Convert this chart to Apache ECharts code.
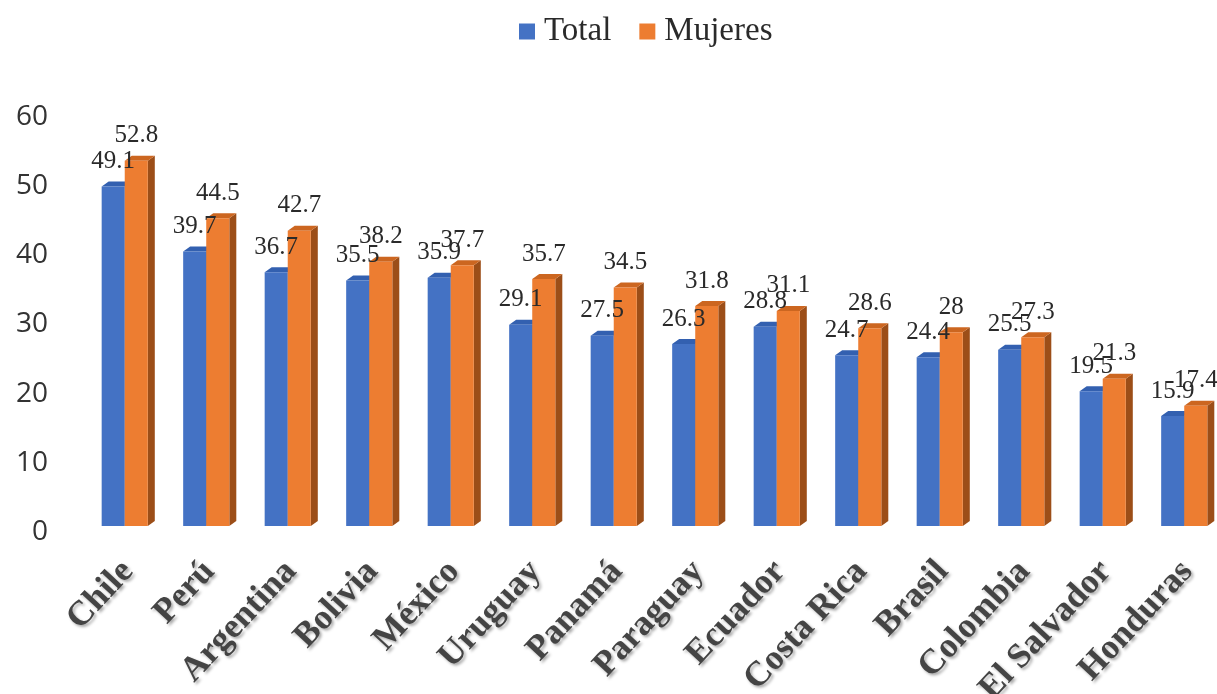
<!DOCTYPE html>
<html>
<head>
<meta charset="utf-8">
<script src="https://cdn.jsdelivr.net/npm/echarts@6/dist/echarts.min.js"></script>
<style>html,body{margin:0;padding:0;background:#fff}#c{width:1217px;height:694px}</style>
</head>
<body>
<div id="c"></div>
<script>
const categories = ['Chile','Perú','Argentina','Bolivia','México','Uruguay','Panamá','Paraguay','Ecuador','Costa Rica','Brasil','Colombia','El Salvador','Honduras'];
const totalValues = [49.1, 39.7, 36.7, 35.5, 35.9, 29.1, 27.5, 26.3, 28.8, 24.7, 24.4, 25.5, 19.5, 15.9];
const mujeresValues = [52.8, 44.5, 42.7, 38.2, 37.7, 35.7, 34.5, 31.8, 31.1, 28.6, 28, 27.3, 21.3, 17.4];
const yTicks = [0, 10, 20, 30, 40, 50, 60];

const palette = [
  {front: '#4472C4', side: '#2F528F', top: '#3360B0'},
  {front: '#ED7D31', side: '#9C4E18', top: '#CC6620'}
];

function render(params, api) {
  const ci = api.value(0), v = api.value(1);
  const p0 = api.coord([ci, 0]);
  const p1 = api.coord([ci, v]);
  const band = api.size([1, 0])[0];
  const w = band * 0.283;
  const s = params.seriesIndex;
  const left = p0[0] - band * 0.32 + s * w;
  const fy = -6, dx = 7, dy = -5;
  const top = p1[1] + fy, bottom = p0[1] + fy;
  const c = palette[s];
  return {
    type: 'group',
    children: [
      {type: 'polygon', shape: {points: [[left + w, top], [left + w + dx, top + dy], [left + w + dx, bottom + dy], [left + w, bottom]]}, style: {fill: c.side}},
      {type: 'polygon', shape: {points: [[left, top], [left + dx, top + dy], [left + w + dx, top + dy], [left + w, top]]}, style: {fill: c.top}},
      {type: 'rect', shape: {x: left, y: top, width: w, height: bottom - top}, style: {fill: c.front}},
      {type: 'text', z2: 100, style: {x: left + w / 2, y: top - 25, text: String(v), textAlign: 'center', textVerticalAlign: 'middle', fill: '#2a2a2a', font: '25px "Liberation Serif", serif'}}
    ]
  };
}

const chart = echarts.init(document.getElementById('c'));
chart.setOption({
  animation: false,
  legend: {
    top: 10, left: 514, icon: 'rect', itemWidth: 16, itemHeight: 16, itemGap: 28,
    textStyle: {fontFamily: 'Liberation Serif', fontSize: 33, color: '#2a2a2a', padding: [0, 0, 0, 4]},
    data: ['Total', 'Mujeres']
  },
  grid: {left: 87, top: 117, width: 1141, bottom: 162, containLabel: false, outerBoundsMode: 'none'},
  xAxis: {
    type: 'category', data: categories,
    axisLine: {show: false}, axisTick: {show: false},
    axisLabel: {interval: 0, rotate: 47, margin: 34, fontFamily: 'Liberation Serif', fontWeight: 'bold', fontSize: 35, color: '#444',
      textShadowColor: 'rgba(0,0,0,0.35)', textShadowBlur: 3, textShadowOffsetX: 2, textShadowOffsetY: 2}
  },
  yAxis: {
    type: 'value', min: yTicks[0], max: yTicks[yTicks.length - 1], interval: 10,
    splitLine: {show: false}, axisLine: {show: false}, axisTick: {show: false},
    axisLabel: {margin: 39, fontFamily: 'Open Sans', fontSize: 28, color: '#333'}
  },
  series: [
    {name: 'Total', type: 'custom', itemStyle: {color: '#4472C4'}, renderItem: render, encode: {x: 0, y: 1}, data: totalValues.map((v, i) => [i, v])},
    {name: 'Mujeres', type: 'custom', itemStyle: {color: '#ED7D31'}, renderItem: render, encode: {x: 0, y: 1}, data: mujeresValues.map((v, i) => [i, v])}
  ]
});
</script>
</body>
</html>
